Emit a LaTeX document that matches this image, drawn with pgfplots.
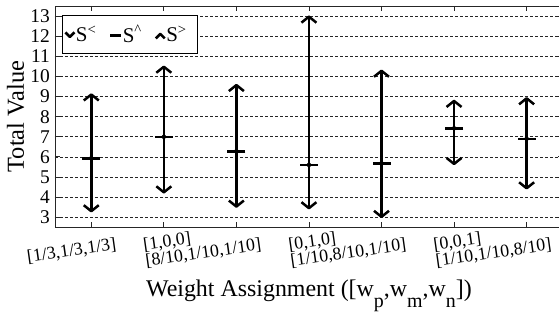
\documentclass[border=0pt]{standalone}
\usepackage{pgfplots}
\pgfplotsset{compat=1.18}
\usepackage{pgfplotstable}
\usepackage{fontspec}
\setmainfont{Liberation Serif}

\pgfdeclareplotmark{chevup}{%
  \pgfpathmoveto{\pgfqpoint{-7.5bp}{-6bp}}%
  \pgfpathlineto{\pgfqpoint{0bp}{0bp}}%
  \pgfpathlineto{\pgfqpoint{7.5bp}{-6bp}}%
  \pgfusepathqstroke}
\pgfdeclareplotmark{chevdown}{%
  \pgfpathmoveto{\pgfqpoint{-7.5bp}{6bp}}%
  \pgfpathlineto{\pgfqpoint{0bp}{0bp}}%
  \pgfpathlineto{\pgfqpoint{7.5bp}{6bp}}%
  \pgfusepathqstroke}
\pgfdeclareplotmark{chevupS}{%
  \pgfpathmoveto{\pgfqpoint{-4.5bp}{-3bp}}%
  \pgfpathlineto{\pgfqpoint{0bp}{1.5bp}}%
  \pgfpathlineto{\pgfqpoint{4.5bp}{-3bp}}%
  \pgfusepathqstroke}
\pgfdeclareplotmark{chevdownS}{%
  \pgfpathmoveto{\pgfqpoint{-4.5bp}{3bp}}%
  \pgfpathlineto{\pgfqpoint{0bp}{-1.5bp}}%
  \pgfpathlineto{\pgfqpoint{4.5bp}{3bp}}%
  \pgfusepathqstroke}
\pgfdeclareplotmark{dashS}{%
  \pgfpathmoveto{\pgfqpoint{-5.5bp}{0bp}}%
  \pgfpathlineto{\pgfqpoint{5.5bp}{0bp}}%
  \pgfusepathqstroke}

\pgfplotsset{
  legdown/.style={legend image code/.code={\draw[##1, mark=chevdownS, line width=2.6bp, yshift=-1bp] plot coordinates {(0bp,0bp)};}},
  legup/.style={legend image code/.code={\draw[##1, mark=chevupS, line width=2.6bp, yshift=-1bp] plot coordinates {(0bp,0bp)};}},
  legmid/.style={legend image code/.code={\draw[##1, mark=dashS, line width=2.6bp, yshift=-1bp] plot coordinates {(0bp,0bp)};}},
}

\pgfplotstableread{
x  lo    mean  hi
1  3.30  5.93  9.10
2  4.24  7.00  10.48
3  3.53  6.28  9.57
4  3.45  5.60  12.97
5  3.02  5.68  10.28
6  5.65  7.42  8.78
7  4.44  6.90  8.91
}\data

\begin{document}
\begin{tikzpicture}
\begin{axis}[
  scale only axis, width=507.9bp, height=221.3bp,
  xmin=0.5, xmax=7.5, ymin=2.5, ymax=13.5,
  xtick={1,...,7},
  xticklabels={{[1/3,1/3,1/3]},{},{[1,0,0]\\{}[8/10,1/10,1/10]},{},{[0,1,0]\\{}[1/10,8/10,1/10]},{},{[0,0,1]\\{}[1/10,1/10,8/10]}},
  ytick={3,...,13},
  yticklabels={3,4,5,6,7,8,9,10,11,12,13},
  tick align=inside,
  major tick length=5bp,
  tick style={black!85, line width=0.8bp},
  axis line style={black!85, line width=0.9bp},
  ymajorgrids,
  grid style={black!85, line width=0.7bp, dash pattern=on 3bp off 2bp},
  yticklabel style={font=\fontsize{19.5}{19.5}\selectfont, inner sep=0pt, xshift=-5bp},
  xticklabel style={font=\fontsize{18}{16}\selectfont, align=left, inner sep=0pt,
     xshift=26bp, yshift=-25.5bp, rotate=8, anchor=south east},
  xlabel={Weight Assignment ([w\raisebox{-0.45em}{\fontsize{20}{20}\selectfont p},w\raisebox{-0.45em}{\fontsize{20}{20}\selectfont m},w\raisebox{-0.45em}{\fontsize{20}{20}\selectfont n}])},
  ylabel={Total Value},
  xlabel style={font=\fontsize{24}{24}\selectfont, at={([yshift=-69bp]axis description cs:0.5,0)}, anchor=base},
  ylabel style={font=\fontsize{24.5}{24.5}\selectfont, at={([xshift=-31bp]axis description cs:0,0.5)}, anchor=base},
  legend columns=-1,
  legend style={at={([xshift=7bp,yshift=-8.7bp]axis description cs:0,1)}, anchor=north west,
     draw=black, line width=0.8bp, inner xsep=3bp, inner ysep=10bp,
     font=\fontsize{21}{21}\selectfont,
     nodes={inner sep=0bp},
     /tikz/every even column/.append style={column sep=14bp},
     /tikz/every odd column/.append style={column sep=1.5bp}},
]
\addplot[forget plot, only marks, mark=none,
  error bars/.cd, y dir=both, y explicit, error mark=none,
  error bar style={black, line width=2.6bp}]
  table[x=x, y=mean, y error plus expr=\thisrow{hi}-\thisrow{mean},
        y error minus expr=\thisrow{mean}-\thisrow{lo}] {\data};
\addplot[only marks, mark=chevdown, black, line width=2.5bp, line join=round, legdown]
  table[x=x, y=lo] {\data};
\addlegendentry{S\textsuperscript{<}}
\addplot[only marks, mark=-, mark size=9bp, black, line width=2.5bp, legmid]
  table[x=x, y=mean] {\data};
\addlegendentry{S\textsuperscript{\textasciicircum}}
\addplot[only marks, mark=chevup, black, line width=2.5bp, line join=round, legup]
  table[x=x, y=hi] {\data};
\addlegendentry{S\textsuperscript{>}\kern 8bp}
\end{axis}
\pgfresetboundingbox
\useasboundingbox ([xshift=-55bp,yshift=6bp]current axis.north west) rectangle ([xshift=504bp,yshift=-85.7bp]current axis.south west);
\end{tikzpicture}
\end{document}
